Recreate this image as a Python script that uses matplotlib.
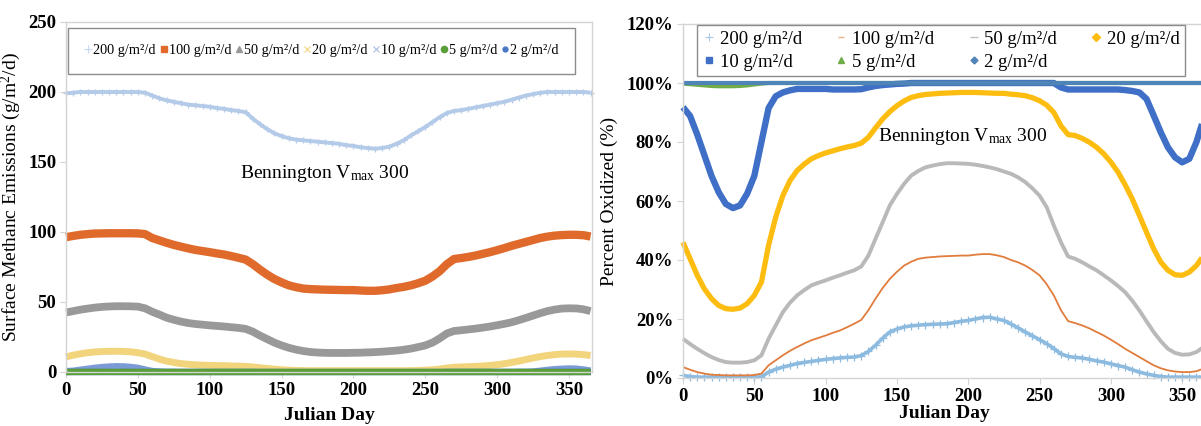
import numpy as np
import matplotlib
matplotlib.use("Agg")
import matplotlib.pyplot as plt
from matplotlib.lines import Line2D

plt.rcParams["font.family"] = ["Liberation Serif", "DejaVu Serif"]
plt.rcParams["mathtext.fontset"] = "custom"
plt.rcParams["mathtext.rm"] = "Liberation Serif"
plt.rcParams["mathtext.it"] = "Liberation Serif:italic"

# ---- data: Julian day grid (every 5 days) ----
days = list(range(0, 366, 5))

loadings = ["200 g/m²/d", "100 g/m²/d", "50 g/m²/d", "20 g/m²/d",
            "10 g/m²/d", "5 g/m²/d", "2 g/m²/d"]

# surface methane emissions (g/m2/d)
em_200 = [199.0, 199.5, 200.0, 200.0, 200.0, 200.0, 200.0, 200.0, 200.0, 200.0,
          200.0, 199.5, 197.5, 195.5, 194.0, 193.0, 192.0, 191.0, 190.5, 190.0,
          189.5, 188.5, 188.0, 187.0, 186.5, 185.5, 181.0, 177.0, 173.5, 170.5,
          168.5, 167.0, 166.0, 165.5, 165.0, 164.5, 164.0, 163.5, 163.0, 162.0,
          161.5, 160.5, 160.0, 159.5, 160.0, 161.0, 163.0, 165.5, 169.0, 172.0,
          175.0, 178.5, 182.0, 185.0, 186.5, 187.0, 188.0, 189.0, 190.0, 191.0,
          192.0, 193.0, 194.5, 196.0, 197.5, 198.5, 199.5, 200.0, 200.0, 200.0,
          200.0, 200.0, 200.0, 199.5]
em_100 = [96.3, 97.2, 98.0, 98.5, 98.9, 99.0, 99.1, 99.1, 99.1, 99.1,
          99.0, 98.5, 95.7, 94.0, 92.3, 90.8, 89.5, 88.3, 87.2, 86.4,
          85.6, 84.7, 83.9, 82.8, 81.6, 80.3, 77.0, 73.1, 69.5, 66.4,
          64.0, 61.9, 60.6, 59.6, 59.2, 59.0, 58.8, 58.7, 58.6, 58.5,
          58.5, 58.2, 58.0, 58.0, 58.4, 59.0, 60.0, 60.8, 61.9, 63.4,
          65.2, 68.2, 72.0, 77.0, 80.7, 81.4, 82.2, 83.2, 84.4, 85.6,
          87.0, 88.5, 90.1, 91.5, 92.9, 94.3, 95.7, 96.7, 97.4, 97.8,
          98.0, 98.0, 97.7, 96.8]
em_50 = [42.5, 43.5, 44.5, 45.3, 46.0, 46.5, 46.8, 47.0, 47.0, 46.9,
         46.7, 45.5, 43.0, 41.0, 38.8, 37.3, 36.0, 35.0, 34.3, 33.8,
         33.3, 32.9, 32.5, 32.0, 31.5, 30.8, 28.8, 26.0, 23.5, 21.0,
         19.0, 17.3, 16.0, 15.0, 14.3, 13.9, 13.7, 13.6, 13.6, 13.6,
         13.7, 13.8, 14.0, 14.2, 14.5, 14.9, 15.3, 15.9, 16.7, 17.8,
         19.0, 21.0, 24.0, 27.5, 29.3, 29.8, 30.4, 31.0, 31.7, 32.5,
         33.4, 34.4, 35.5, 37.0, 38.6, 40.3, 42.0, 43.5, 44.6, 45.3,
         45.5, 45.4, 44.8, 43.5]
em_20 = [10.8, 12.0, 13.0, 13.8, 14.3, 14.6, 14.8, 14.8, 14.7, 14.4,
         13.8, 12.8, 11.0, 9.2, 7.8, 6.8, 6.0, 5.5, 5.1, 4.9,
         4.7, 4.6, 4.5, 4.3, 4.2, 4.0, 3.6, 3.0, 2.5, 2.0,
         1.6, 1.3, 1.1, 1.0, 0.9, 0.9, 0.9, 0.9, 0.9, 0.9,
         0.9, 0.9, 0.9, 0.9, 0.9, 0.9, 0.9, 0.9, 1.0, 1.1,
         1.3, 1.6, 2.1, 2.8, 3.4, 3.6, 3.8, 4.0, 4.3, 4.7,
         5.2, 5.9, 6.8, 7.8, 8.9, 10.0, 11.0, 11.8, 12.4, 12.8,
         12.9, 12.8, 12.4, 11.8]
em_10 = [0.8, 1.1, 1.8, 2.5, 3.2, 3.7, 4.1, 4.3, 4.2, 3.8,
         3.2, 2.0, 0.9, 0.5, 0.3, 0.3, 0.2, 0.2, 0.2, 0.2,
         0.2, 0.2, 0.2, 0.2, 0.2, 0.2, 0.2, 0.1, 0.1, 0.1,
         0.0, 0.0, 0.0, 0.0, 0.0, 0.0, 0.0, 0.0, 0.0, 0.0,
         0.0, 0.0, 0.0, 0.0, 0.0, 0.0, 0.0, 0.0, 0.0, 0.0,
         0.0, 0.0, 0.0, 0.2, 0.2, 0.2, 0.2, 0.2, 0.2, 0.2,
         0.2, 0.2, 0.2, 0.3, 0.3, 0.5, 1.1, 1.7, 2.2, 2.5,
         2.7, 2.6, 2.0, 1.2]
em_5 = [0.0, 0.02, 0.03, 0.04, 0.05, 0.06, 0.06, 0.06, 0.05, 0.04,
        0.03, 0.01, 0.0, 0.0, 0.0, 0.0, 0.0, 0.0, 0.0, 0.0,
        0.0, 0.0, 0.0, 0.0, 0.0, 0.0, 0.0, 0.0, 0.0, 0.0,
        0.0, 0.0, 0.0, 0.0, 0.0, 0.0, 0.0, 0.0, 0.0, 0.0,
        0.0, 0.0, 0.0, 0.0, 0.0, 0.0, 0.0, 0.0, 0.0, 0.0,
        0.0, 0.0, 0.0, 0.0, 0.0, 0.0, 0.0, 0.0, 0.0, 0.0,
        0.0, 0.0, 0.0, 0.0, 0.0, 0.0, 0.0, 0.0, 0.0, 0.0,
        0.0, 0.0, 0.0, 0.0]
em_2 = [0.0, 0.0, 0.0, 0.0, 0.0, 0.0, 0.0, 0.0, 0.0, 0.0,
        0.0, 0.0, 0.0, 0.0, 0.0, 0.0, 0.0, 0.0, 0.0, 0.0,
        0.0, 0.0, 0.0, 0.0, 0.0, 0.0, 0.0, 0.0, 0.0, 0.0,
        0.0, 0.0, 0.0, 0.0, 0.0, 0.0, 0.0, 0.0, 0.0, 0.0,
        0.0, 0.0, 0.0, 0.0, 0.0, 0.0, 0.0, 0.0, 0.0, 0.0,
        0.0, 0.0, 0.0, 0.0, 0.0, 0.0, 0.0, 0.0, 0.0, 0.0,
        0.0, 0.0, 0.0, 0.0, 0.0, 0.0, 0.0, 0.0, 0.0, 0.0,
        0.0, 0.0, 0.0, 0.0]

# percent of methane oxidized (%)
ox_200 = [0.9, 0.5, 0.3, 0.3, 0.3, 0.3, 0.3, 0.3, 0.3, 0.3,
          0.3, 0.4, 2.0, 3.0, 3.7, 4.3, 4.9, 5.3, 5.6, 6.0,
          6.3, 6.6, 6.8, 7.0, 7.1, 7.6, 9.0, 11.1, 13.5, 15.6,
          16.6, 17.3, 17.7, 17.9, 18.1, 18.2, 18.3, 18.4, 18.8, 19.2,
          19.5, 20.0, 20.5, 20.6, 20.0, 19.5, 18.3, 17.0, 15.6, 14.3,
          13.0, 11.6, 10.0, 8.2, 7.3, 7.0, 6.8, 6.3, 5.8, 5.4,
          4.8, 4.2, 3.7, 2.8, 2.0, 1.4, 0.9, 0.5, 0.3, 0.3,
          0.3, 0.3, 0.3, 0.3]
ox_100 = [3.7, 2.8, 2.0, 1.5, 1.1, 1.0, 0.9, 0.9, 0.9, 0.9,
          1.0, 1.5, 4.3, 6.0, 7.7, 9.2, 10.5, 11.7, 12.8, 13.6,
          14.4, 15.3, 16.1, 17.2, 18.4, 19.7, 23.0, 26.9, 30.5, 33.6,
          36.0, 38.1, 39.4, 40.4, 40.8, 41.0, 41.2, 41.3, 41.4, 41.5,
          41.5, 41.8, 42.0, 42.0, 41.6, 41.0, 40.0, 39.2, 38.1, 36.6,
          34.8, 31.8, 28.0, 23.0, 19.3, 18.6, 17.8, 16.8, 15.6, 14.4,
          13.0, 11.5, 9.9, 8.5, 7.1, 5.7, 4.3, 3.3, 2.6, 2.2,
          2.0, 2.0, 2.3, 3.2]
ox_50 = [13.3, 11.5, 9.9, 8.4, 7.1, 6.1, 5.4, 5.2, 5.2, 5.4,
         6.0, 7.7, 13.3, 17.8, 22.3, 25.5, 28.0, 29.8, 31.4, 32.3,
         33.1, 34.0, 34.8, 35.7, 36.5, 37.8, 41.5, 47.2, 52.8, 58.5,
         62.4, 65.8, 68.6, 70.2, 71.4, 72.0, 72.5, 72.8, 72.8, 72.7,
         72.6, 72.3, 71.9, 71.4, 70.8, 70.0, 69.2, 68.0, 66.4, 64.3,
         61.8, 57.9, 51.7, 46.0, 41.2, 40.4, 39.2, 37.8, 36.5, 34.8,
         33.1, 31.2, 29.1, 26.2, 22.9, 19.2, 15.6, 12.5, 9.9, 8.5,
         7.9, 8.0, 8.8, 10.5]
ox_20 = [46.0, 40.4, 34.8, 30.2, 26.9, 24.6, 23.5, 23.3, 23.7, 25.2,
         28.0, 32.5, 45.0, 54.5, 61.8, 66.9, 70.3, 72.5, 74.3, 75.4,
         76.3, 77.0, 77.7, 78.3, 78.8, 79.6, 81.6, 84.8, 87.8, 90.3,
         92.3, 93.9, 95.1, 95.7, 96.1, 96.3, 96.5, 96.6, 96.7, 96.8,
         96.8, 96.8, 96.7, 96.6, 96.5, 96.5, 96.2, 96.0, 95.7, 95.0,
         94.0, 92.5, 90.0, 85.5, 82.5, 82.2, 81.2, 79.9, 78.2, 76.0,
         73.2, 69.8, 65.5, 60.7, 55.1, 49.4, 43.8, 39.3, 36.5, 35.0,
         34.8, 35.9, 38.1, 41.5]
ox_10 = [91.8, 88.8, 82.5, 75.5, 68.5, 63.0, 59.0, 57.6, 58.5, 62.5,
         68.5, 80.0, 91.5, 95.5, 96.8, 97.5, 98.0, 98.0, 98.0, 98.0,
         98.0, 97.8, 97.8, 97.8, 97.8, 97.9, 98.5, 99.0, 99.3, 99.5,
         99.7, 99.8, 100.0, 100.0, 100.0, 100.0, 100.0, 100.0, 100.0, 100.0,
         100.0, 100.0, 100.0, 100.0, 100.0, 100.0, 100.0, 100.0, 100.0, 100.0,
         100.0, 100.0, 100.0, 98.5, 97.8, 97.8, 97.8, 97.8, 97.8, 97.8,
         97.8, 97.8, 97.6, 97.3, 96.8, 94.6, 89.0, 83.3, 78.2, 74.8,
         73.1, 74.3, 80.0, 87.8]
ox_5 = [99.8, 99.6, 99.4, 99.2, 99.0, 98.9, 98.9, 98.9, 99.0, 99.2,
        99.5, 99.8, 100.0, 100.0, 100.0, 100.0, 100.0, 100.0, 100.0, 100.0,
        100.0, 100.0, 100.0, 100.0, 100.0, 100.0, 100.0, 100.0, 100.0, 100.0,
        100.0, 100.0, 100.0, 100.0, 100.0, 100.0, 100.0, 100.0, 100.0, 100.0,
        100.0, 100.0, 100.0, 100.0, 100.0, 100.0, 100.0, 100.0, 100.0, 100.0,
        100.0, 100.0, 100.0, 100.0, 100.0, 100.0, 100.0, 100.0, 100.0, 100.0,
        100.0, 100.0, 100.0, 100.0, 100.0, 100.0, 100.0, 100.0, 100.0, 100.0,
        100.0, 100.0, 100.0, 100.0]
ox_2 = [100.0, 100.0, 100.0, 100.0, 100.0, 100.0, 100.0, 100.0, 100.0, 100.0,
        100.0, 100.0, 100.0, 100.0, 100.0, 100.0, 100.0, 100.0, 100.0, 100.0,
        100.0, 100.0, 100.0, 100.0, 100.0, 100.0, 100.0, 100.0, 100.0, 100.0,
        100.0, 100.0, 100.0, 100.0, 100.0, 100.0, 100.0, 100.0, 100.0, 100.0,
        100.0, 100.0, 100.0, 100.0, 100.0, 100.0, 100.0, 100.0, 100.0, 100.0,
        100.0, 100.0, 100.0, 100.0, 100.0, 100.0, 100.0, 100.0, 100.0, 100.0,
        100.0, 100.0, 100.0, 100.0, 100.0, 100.0, 100.0, 100.0, 100.0, 100.0,
        100.0, 100.0, 100.0, 100.0]

x_ticks = [0, 50, 100, 150, 200, 250, 300, 350]
left_yticks = [0, 50, 100, 150, 200, 250]
right_yticks = [0, 20, 40, 60, 80, 100, 120]

# ---- figure ----
W, H = 1201, 426
fig = plt.figure(figsize=(W / 100, H / 100), dpi=100)

def px_axes(x0, y0, x1, y1):
    return fig.add_axes([x0 / W, 1 - y1 / H, (x1 - x0) / W, (y1 - y0) / H])

ax1 = px_axes(66, 22, 592, 372)
ax2 = px_axes(683, 24, 1205, 378)

spine_col = "#d4d4d4"
for ax in (ax1, ax2):
    for s in ax.spines.values():
        s.set_color(spine_col)
        s.set_linewidth(1.0)
    ax.tick_params(axis="both", which="both", length=4, color=spine_col,
                   labelsize=13.5, pad=3)
    ax.set_xlim(0, 366)
    ax.set_xticks(x_ticks)
    for lab in ax.get_xticklabels() + ax.get_yticklabels():
        lab.set_fontweight("bold")

# left panel: emissions
left_styles = [
    # values, color, linewidth, marker, marker size
    (em_200, "#b3cae8", 2.8, "+", 5),
    (em_100, "#e06a2c", 6.0, None, 0),
    (em_50, "#999999", 5.6, None, 0),
    (em_20, "#f1d47c", 5.0, None, 0),
    (em_10, "#7c9bd6", 4.2, None, 0),
    (em_2, "#4a78c6", 4.6, None, 0),
    (em_5, "#5a9e38", 4.6, None, 0),
]
for vals, col, lw, mk, ms in left_styles:
    ax1.plot(days, vals, color=col, lw=lw, marker=mk, ms=ms, mew=0.9,
             solid_capstyle="butt", clip_on=False)

ax1.set_ylim(0, 250)
ax1.set_yticks(left_yticks)
ax1.set_ylabel("Surface Methanc Emissions (g/m$^2$/d)", fontsize=14, labelpad=4)
ax1.set_xlabel("Julian Day", fontsize=14, fontweight="bold", labelpad=6)
ax1.text(180, 142, r"Bennington V$_{\rm max}$ 300", fontsize=14,
         ha="center", va="center")

left_handles = [
    Line2D([], [], ls="none", marker="+", ms=6, mew=0.8, color="#c8d8ee"),
    Line2D([], [], ls="none", marker="s", ms=5, color="#e06a2c"),
    Line2D([], [], ls="none", marker="^", ms=5, color="#999999"),
    Line2D([], [], ls="none", marker="x", ms=5, mew=0.8, color="#f1d47c"),
    Line2D([], [], ls="none", marker="x", ms=5, mew=0.8, color="#a8bde0"),
    Line2D([], [], ls="none", marker="o", ms=4.5, color="#5a9e38"),
    Line2D([], [], ls="none", marker="o", ms=3.5, color="#4a78c6"),
]
leg1 = ax1.legend(left_handles, loadings, loc="upper left",
                  bbox_to_anchor=(0.004, 0.983, 0.964, 0.0), mode="expand",
                  ncol=7, fontsize=10.3, frameon=True, fancybox=False,
                  handlelength=0.5, handletextpad=0.1, columnspacing=0.15,
                  borderpad=1.15, borderaxespad=0)
leg1.get_frame().set_edgecolor("#707070")
leg1.get_frame().set_linewidth(1.0)

# right panel: percent oxidized
right_styles = [
    (ox_200, "#8dbbe0", 2.6, "+", 6),
    (ox_100, "#e07c3c", 1.3, None, 0),
    (ox_50, "#b9b9b9", 2.8, None, 0),
    (ox_20, "#fdbd10", 3.8, None, 0),
    (ox_10, "#3f6fc6", 4.6, None, 0),
    (ox_5, "#70ad47", 3.0, None, 0),
    (ox_2, "#4f84b8", 3.0, None, 0),
]
for vals, col, lw, mk, ms in right_styles:
    ax2.plot(days, vals, color=col, lw=lw, marker=mk, ms=ms, mew=0.9,
             solid_capstyle="butt", clip_on=False)

ax2.set_ylim(0, 120)
ax2.set_yticks(right_yticks)
ax2.set_yticklabels([f"{v}%" for v in right_yticks])
for lab in ax2.get_yticklabels():
    lab.set_fontweight("bold")
ax2.set_ylabel("Percent Oxidized (%)", fontsize=14, labelpad=6)
ax2.set_xlabel("Julian Day", fontsize=14, fontweight="bold", labelpad=0)
ax2.text(196, 82, r"Bennington V$_{\rm max}$ 300", fontsize=14,
         ha="center", va="center")

right_handles = [
    Line2D([], [], ls="none", marker="+", ms=6, mew=0.8, color="#a9c8e4"),
    Line2D([], [], ls="none", marker="_", ms=5, mew=1.0, color="#f0b08a"),
    Line2D([], [], ls="none", marker="_", ms=6, mew=1.0, color="#c0c0c0"),
    Line2D([], [], ls="none", marker="D", ms=4, color="#fdbd10"),
    Line2D([], [], ls="none", marker="s", ms=5, color="#3f6fc6"),
    Line2D([], [], ls="none", marker="^", ms=5, color="#70ad47"),
    Line2D([], [], ls="none", marker="D", ms=3.5, color="#4f84b8"),
]
# legend fills column by column; order entries so rows read 200,100,50,20 / 10,5,2
row_major = [0, 4, 1, 5, 2, 6, 3]
leg2 = ax2.legend([right_handles[i] for i in row_major],
                  [loadings[i] for i in row_major], loc="upper left",
                  bbox_to_anchor=(0.027, 0.997, 0.935, 0.0), mode="expand",
                  ncol=4, fontsize=13.5, frameon=True, fancybox=False,
                  handlelength=0.7, handletextpad=0.2, columnspacing=1.0,
                  borderpad=0.3, labelspacing=0.3, borderaxespad=0)
leg2.get_frame().set_edgecolor("#707070")
leg2.get_frame().set_linewidth(1.0)

fig.savefig("out.png", dpi=100)
